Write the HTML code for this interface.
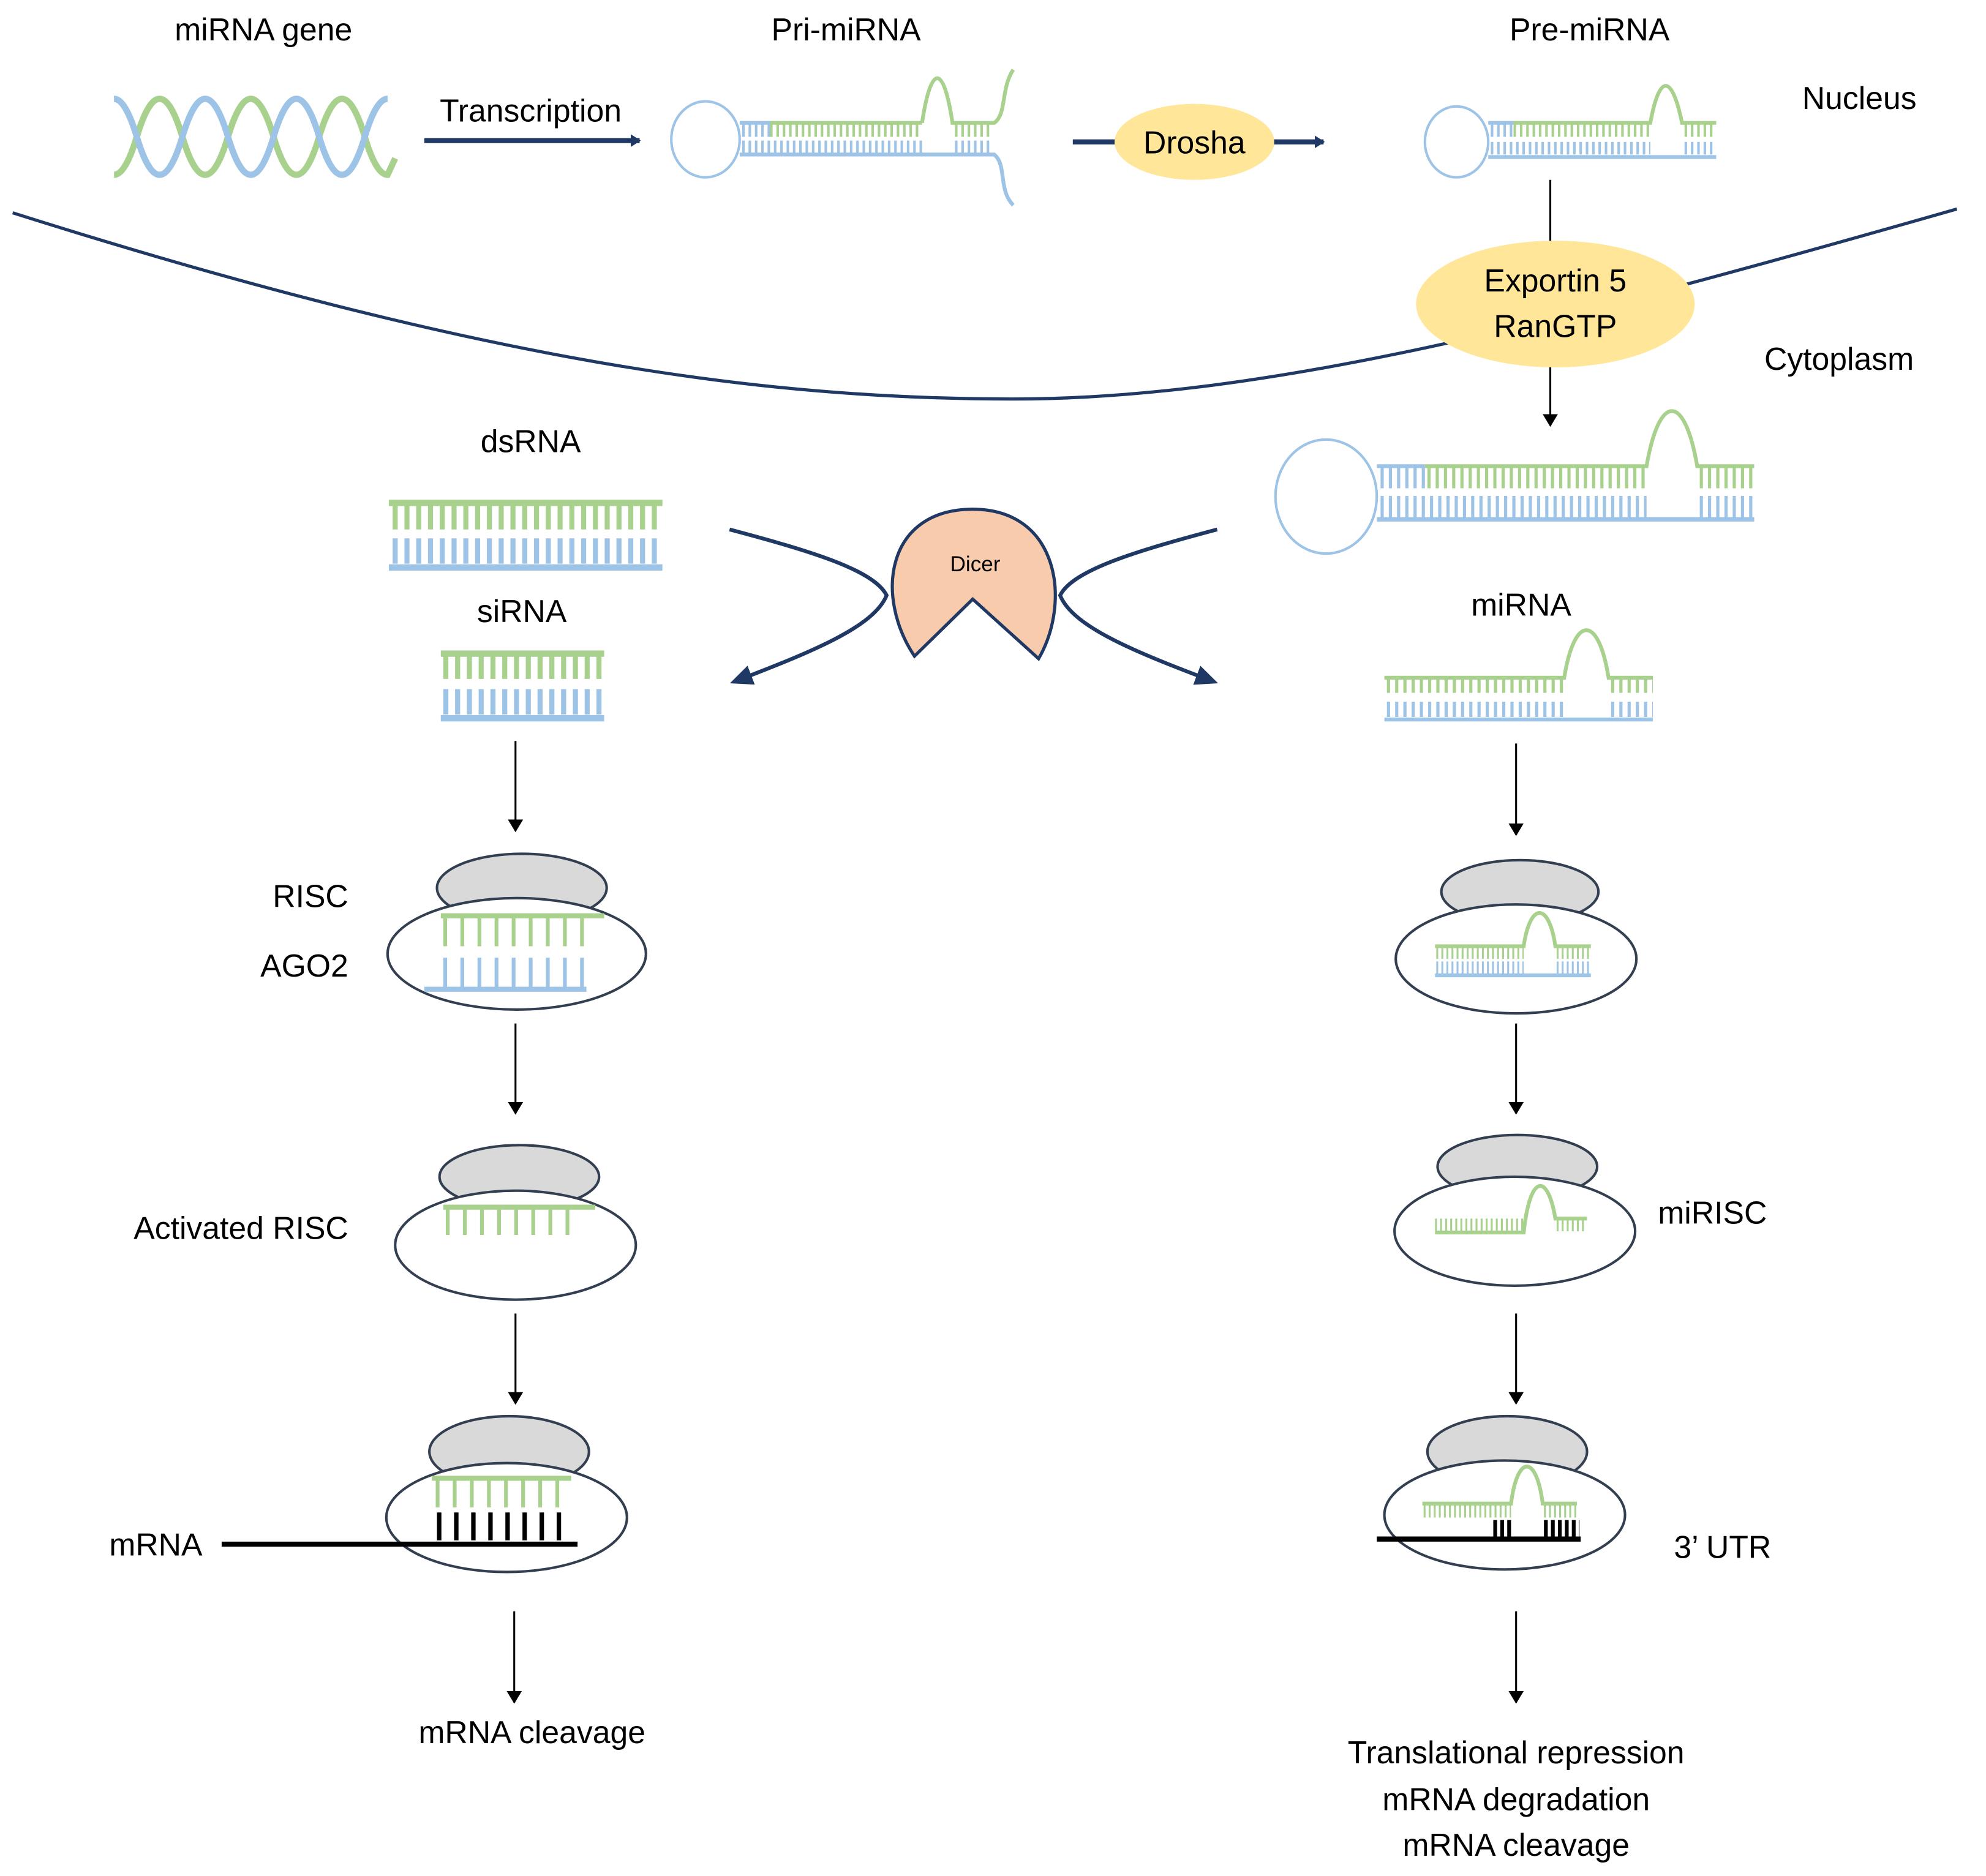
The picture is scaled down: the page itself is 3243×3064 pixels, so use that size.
<!DOCTYPE html>
<html><head><meta charset="utf-8"><style>
html,body{margin:0;padding:0;background:#fff}
svg{display:block}
text{font-family:"Liberation Sans",sans-serif;font-size:25px;fill:#000;text-anchor:middle}
</style></head><body>
<svg width="3243" height="3064" viewBox="0 0 1568 1481" preserveAspectRatio="none" xmlns="http://www.w3.org/2000/svg">
<defs>
<marker id="ah" markerWidth="10" markerHeight="12" refX="9" refY="6" orient="auto" markerUnits="userSpaceOnUse"><path d="M0,0 L10,6 L0,12 Z" fill="#000"/></marker>
<marker id="nh" markerWidth="18" markerHeight="16" refX="14" refY="8" orient="auto" markerUnits="userSpaceOnUse"><path d="M0,0 L18,8 L0,16 Z" fill="#1f3864"/></marker>
<marker id="sh" markerWidth="8" markerHeight="10" refX="7" refY="5" orient="auto" markerUnits="userSpaceOnUse"><path d="M0,0 L8,5 L0,10 Z" fill="#1f3864"/></marker>
</defs>
<g fill="none" stroke-linecap="butt">
<text x="208" y="32">miRNA gene</text>
<text x="668" y="32">Pri-miRNA</text>
<text x="1255" y="32">Pre-miRNA</text>
<text x="1468" y="86">Nucleus</text>
<text x="419" y="96">Transcription</text>
<text x="1452" y="292">Cytoplasm</text>

<!-- helix -->
<path d="M90,138 Q99,138 108,108 Q117,78 126,78 T144,108 T162,138 T180,108 T198,78 T216,108 T234,138 T252,108 T270,78 T288,108 T306,138 L312,125" stroke="#a9d18e" stroke-width="5"/>
<path d="M90,78 Q99,78 108,108 Q117,138 126,138 T144,108 T162,78 T180,108 T198,138 T216,108 T234,78 T252,108 T270,138 T288,108 T306,78" stroke="#9dc3e6" stroke-width="5"/>

<line x1="335" y1="111" x2="505" y2="111" stroke="#1f3864" stroke-width="4" marker-end="url(#sh)"/>

<!-- pri-miRNA -->
<ellipse cx="557" cy="110" rx="27" ry="30" stroke="#9dc3e6" stroke-width="2"/>
<line x1="584" y1="97" x2="608" y2="97" stroke="#9dc3e6" stroke-width="3"/>
<line x1="608" y1="97" x2="728" y2="97" stroke="#a9d18e" stroke-width="3"/>
<line x1="586" y1="103" x2="608" y2="103" stroke="#9dc3e6" stroke-width="10" stroke-dasharray="2 3"/>
<line x1="608" y1="103" x2="728" y2="103" stroke="#a9d18e" stroke-width="10" stroke-dasharray="2 3"/>
<path d="M728,97 C735,50 745,50 752,97 L785,97 C795,90 790,70 800,55" stroke="#a9d18e" stroke-width="3"/>
<line x1="754" y1="103" x2="783" y2="103" stroke="#a9d18e" stroke-width="10" stroke-dasharray="2 3"/>
<line x1="586" y1="116" x2="728" y2="116" stroke="#9dc3e6" stroke-width="10" stroke-dasharray="2 3"/>
<line x1="754" y1="116" x2="783" y2="116" stroke="#9dc3e6" stroke-width="10" stroke-dasharray="2 3"/>
<path d="M584,122 L785,122 C795,130 788,150 800,162" stroke="#9dc3e6" stroke-width="3"/>

<!-- drosha -->
<line x1="847" y1="112" x2="885" y2="112" stroke="#1f3864" stroke-width="4"/>
<line x1="1000" y1="112" x2="1045" y2="112" stroke="#1f3864" stroke-width="4" marker-end="url(#sh)"/>
<ellipse cx="943" cy="112" rx="63" ry="30" fill="#ffe699"/>
<text x="943" y="121">Drosha</text>

<!-- pre-miRNA small -->
<ellipse cx="1150" cy="112" rx="25" ry="28" stroke="#9dc3e6" stroke-width="2"/>
<line x1="1175" y1="97" x2="1195" y2="97" stroke="#9dc3e6" stroke-width="3"/>
<path d="M1195,97 L1303,97 C1310,58 1320,58 1328,97 L1355,97" stroke="#a9d18e" stroke-width="3"/>
<line x1="1177" y1="103" x2="1195" y2="103" stroke="#9dc3e6" stroke-width="10" stroke-dasharray="2 3"/>
<line x1="1195" y1="103" x2="1303" y2="103" stroke="#a9d18e" stroke-width="10" stroke-dasharray="2 3"/>
<line x1="1330" y1="103" x2="1355" y2="103" stroke="#a9d18e" stroke-width="10" stroke-dasharray="2 3"/>
<line x1="1177" y1="117" x2="1303" y2="117" stroke="#9dc3e6" stroke-width="10" stroke-dasharray="2 3"/>
<line x1="1330" y1="117" x2="1355" y2="117" stroke="#9dc3e6" stroke-width="10" stroke-dasharray="2 3"/>
<line x1="1175" y1="124" x2="1355" y2="124" stroke="#9dc3e6" stroke-width="3"/>

<line x1="1224" y1="142" x2="1224" y2="195" stroke="#000" stroke-width="1.5"/>

<path d="M10,168 C380,285 600,315 800,315 C1000,315 1230,255 1545,165" stroke="#1f3864" stroke-width="2.5"/>

<ellipse cx="1228" cy="240" rx="110" ry="50" fill="#ffe699"/>
<text x="1228" y="230">Exportin 5</text>
<text x="1228" y="266">RanGTP</text>
<line x1="1224" y1="290" x2="1224" y2="336" stroke="#000" stroke-width="1.5" marker-end="url(#ah)"/>

<!-- big pre-miRNA -->
<ellipse cx="1047" cy="392" rx="40" ry="45" stroke="#9dc3e6" stroke-width="2"/>
<line x1="1087" y1="368" x2="1125" y2="368" stroke="#9dc3e6" stroke-width="3"/>
<path d="M1125,368 L1300,368 C1310,310 1330,310 1340,368 L1385,368" stroke="#a9d18e" stroke-width="3"/>
<line x1="1090" y1="377" x2="1125" y2="377" stroke="#9dc3e6" stroke-width="17" stroke-dasharray="2.5 4"/>
<line x1="1127" y1="377" x2="1300" y2="377" stroke="#a9d18e" stroke-width="17" stroke-dasharray="2.5 4"/>
<line x1="1342" y1="377" x2="1385" y2="377" stroke="#a9d18e" stroke-width="17" stroke-dasharray="2.5 4"/>
<line x1="1090" y1="400" x2="1300" y2="400" stroke="#9dc3e6" stroke-width="17" stroke-dasharray="2.5 4"/>
<line x1="1342" y1="400" x2="1385" y2="400" stroke="#9dc3e6" stroke-width="17" stroke-dasharray="2.5 4"/>
<line x1="1087" y1="410" x2="1385" y2="410" stroke="#9dc3e6" stroke-width="3.5"/>

<text x="419" y="357">dsRNA</text>
<line x1="307" y1="397" x2="523" y2="397" stroke="#a9d18e" stroke-width="5"/>
<line x1="310" y1="408" x2="523" y2="408" stroke="#a9d18e" stroke-width="20" stroke-dasharray="4 5.3"/>
<line x1="310" y1="435" x2="523" y2="435" stroke="#9dc3e6" stroke-width="20" stroke-dasharray="4 5.3"/>
<line x1="307" y1="448" x2="523" y2="448" stroke="#9dc3e6" stroke-width="5"/>

<text x="412" y="491">siRNA</text>
<line x1="348" y1="516" x2="477" y2="516" stroke="#a9d18e" stroke-width="5"/>
<line x1="350" y1="526" x2="477" y2="526" stroke="#a9d18e" stroke-width="20" stroke-dasharray="4 5.3"/>
<line x1="350" y1="554" x2="477" y2="554" stroke="#9dc3e6" stroke-width="20" stroke-dasharray="4 5.3"/>
<line x1="348" y1="567" x2="477" y2="567" stroke="#9dc3e6" stroke-width="5"/>

<path d="M576,418 C640,435 690,450 700,470 C690,495 640,515 580,538" stroke="#1f3864" stroke-width="3" marker-end="url(#nh)"/>
<path d="M961,418 C897,435 847,450 837,470 C847,495 897,515 958,538" stroke="#1f3864" stroke-width="3" marker-end="url(#nh)"/>
<path d="M722,518 C690,470 700,402 768,402 C836,402 846,475 820,520 L768,473 Z" fill="#f8cbad" stroke="#1f3864" stroke-width="2.5"/>
<text x="770" y="451" style="font-size:17px">Dicer</text>

<text x="1201" y="486">miRNA</text>
<path d="M1093,535 L1235,535 C1243,485 1262,485 1270,535 L1305,535" stroke="#a9d18e" stroke-width="3"/>
<line x1="1095" y1="541" x2="1235" y2="541" stroke="#a9d18e" stroke-width="12" stroke-dasharray="2.5 4"/>
<line x1="1272" y1="541" x2="1305" y2="541" stroke="#a9d18e" stroke-width="12" stroke-dasharray="2.5 4"/>
<line x1="1095" y1="560" x2="1235" y2="560" stroke="#9dc3e6" stroke-width="12" stroke-dasharray="2.5 4"/>
<line x1="1272" y1="560" x2="1305" y2="560" stroke="#9dc3e6" stroke-width="12" stroke-dasharray="2.5 4"/>
<line x1="1093" y1="568" x2="1305" y2="568" stroke="#9dc3e6" stroke-width="3"/>

<g stroke="#000" stroke-width="1.5">
<line x1="407" y1="585" x2="407" y2="656" marker-end="url(#ah)"/>
<line x1="407" y1="808" x2="407" y2="879" marker-end="url(#ah)"/>
<line x1="407" y1="1037" x2="407" y2="1108" marker-end="url(#ah)"/>
<line x1="406" y1="1272" x2="406" y2="1344" marker-end="url(#ah)"/>
<line x1="1197" y1="587" x2="1197" y2="659" marker-end="url(#ah)"/>
<line x1="1197" y1="808" x2="1197" y2="879" marker-end="url(#ah)"/>
<line x1="1197" y1="1037" x2="1197" y2="1108" marker-end="url(#ah)"/>
<line x1="1197" y1="1272" x2="1197" y2="1344" marker-end="url(#ah)"/>
</g>

<g stroke="#333f50" stroke-width="2">
<ellipse cx="412" cy="701" rx="67" ry="27" fill="#d9d9d9"/>
<ellipse cx="408" cy="753" rx="102" ry="44" fill="#fff"/>
<ellipse cx="410" cy="929" rx="63" ry="25" fill="#d9d9d9"/>
<ellipse cx="407" cy="983" rx="95" ry="43" fill="#fff"/>
<ellipse cx="402" cy="1146" rx="63" ry="28" fill="#d9d9d9"/>
<ellipse cx="400" cy="1198" rx="95" ry="43" fill="#fff"/>
<ellipse cx="1200" cy="704" rx="62" ry="25" fill="#d9d9d9"/>
<ellipse cx="1197" cy="757" rx="95" ry="43" fill="#fff"/>
<ellipse cx="1198" cy="921" rx="63" ry="25" fill="#d9d9d9"/>
<ellipse cx="1196" cy="972" rx="95" ry="43" fill="#fff"/>
<ellipse cx="1190" cy="1146" rx="63" ry="28" fill="#d9d9d9"/>
<ellipse cx="1188" cy="1196" rx="95" ry="43" fill="#fff"/>
</g>
<text x="275" y="716" style="text-anchor:end">RISC</text>
<text x="275" y="771" style="text-anchor:end">AGO2</text>
<line x1="348" y1="723" x2="477" y2="723" stroke="#a9d18e" stroke-width="4"/>
<line x1="350" y1="735" x2="463" y2="735" stroke="#a9d18e" stroke-width="24" stroke-dasharray="3 10.5"/>
<line x1="350" y1="768" x2="463" y2="768" stroke="#9dc3e6" stroke-width="24" stroke-dasharray="3 10.5"/>
<line x1="335" y1="781" x2="463" y2="781" stroke="#9dc3e6" stroke-width="4"/>

<text x="275" y="978" style="text-anchor:end">Activated RISC</text>
<line x1="350" y1="953" x2="470" y2="953" stroke="#a9d18e" stroke-width="4"/>
<line x1="352" y1="964" x2="460" y2="964" stroke="#a9d18e" stroke-width="22" stroke-dasharray="3 10.5"/>

<text x="123" y="1228">mRNA</text>
<line x1="341" y1="1167" x2="451" y2="1167" stroke="#a9d18e" stroke-width="4"/>
<line x1="344" y1="1179" x2="451" y2="1179" stroke="#a9d18e" stroke-width="22" stroke-dasharray="3 10.5"/>
<line x1="345" y1="1205" x2="451" y2="1205" stroke="#000" stroke-width="22" stroke-dasharray="3.5 10"/>
<line x1="175" y1="1219" x2="456" y2="1219" stroke="#000" stroke-width="4"/>

<text x="420" y="1376">mRNA cleavage</text>

<path d="M1133,747 L1203,747 C1208,712 1223,712 1228,747 L1256,747" stroke="#a9d18e" stroke-width="3"/>
<line x1="1134" y1="752" x2="1203" y2="752" stroke="#a9d18e" stroke-width="10" stroke-dasharray="1.5 2.5"/>
<line x1="1229" y1="752" x2="1256" y2="752" stroke="#a9d18e" stroke-width="10" stroke-dasharray="1.5 2.5"/>
<line x1="1134" y1="764" x2="1203" y2="764" stroke="#9dc3e6" stroke-width="10" stroke-dasharray="1.5 2.5"/>
<line x1="1229" y1="764" x2="1256" y2="764" stroke="#9dc3e6" stroke-width="10" stroke-dasharray="1.5 2.5"/>
<line x1="1133" y1="770" x2="1256" y2="770" stroke="#9dc3e6" stroke-width="3"/>

<path d="M1133,973 L1203,973 C1208,926 1222,926 1228,962 L1253,962" stroke="#a9d18e" stroke-width="3"/>
<line x1="1133" y1="967" x2="1203" y2="967" stroke="#a9d18e" stroke-width="10" stroke-dasharray="1.5 2.5"/>
<line x1="1229" y1="967" x2="1253" y2="967" stroke="#a9d18e" stroke-width="10" stroke-dasharray="1.5 2.5"/>
<text x="1352" y="966">miRISC</text>

<path d="M1123,1187 L1193,1187 C1198,1148 1213,1148 1218,1187 L1245,1187" stroke="#a9d18e" stroke-width="3"/>
<line x1="1124" y1="1193" x2="1193" y2="1193" stroke="#a9d18e" stroke-width="10" stroke-dasharray="1.5 2.5"/>
<line x1="1219" y1="1193" x2="1245" y2="1193" stroke="#a9d18e" stroke-width="10" stroke-dasharray="1.5 2.5"/>
<line x1="1179" y1="1207" x2="1194" y2="1207" stroke="#000" stroke-width="14" stroke-dasharray="3 2.5"/>
<line x1="1219" y1="1207" x2="1247" y2="1207" stroke="#000" stroke-width="14" stroke-dasharray="3 2.5"/>
<line x1="1087" y1="1215" x2="1248" y2="1215" stroke="#000" stroke-width="4"/>
<text x="1360" y="1230">3’ UTR</text>

<text x="1197" y="1392">Translational repression</text>
<text x="1197" y="1429">mRNA degradation</text>
<text x="1197" y="1465">mRNA cleavage</text>
</g>
</svg>
</body></html>
